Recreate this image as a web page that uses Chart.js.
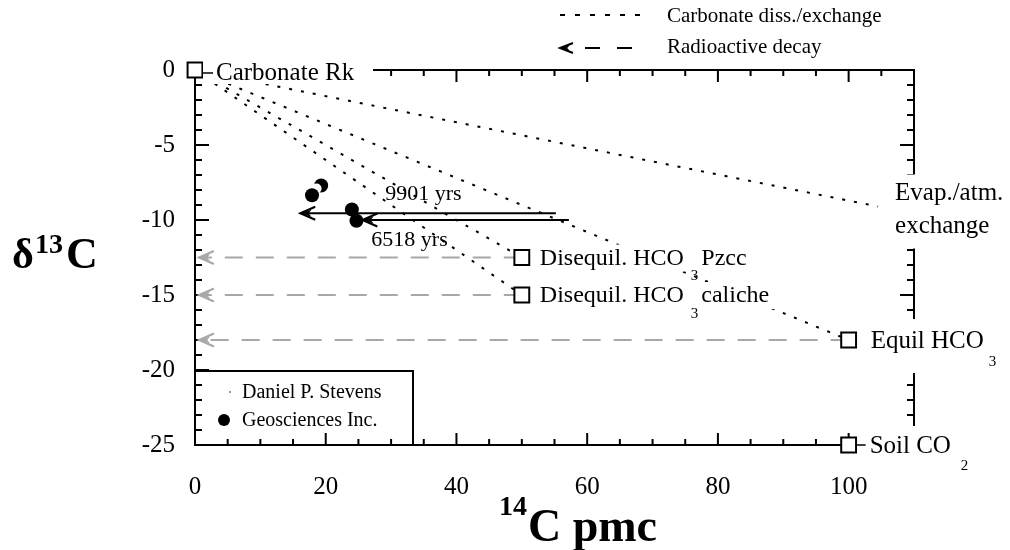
<!DOCTYPE html>
<html>
<head>
<meta charset="utf-8">
<script src="https://cdn.jsdelivr.net/npm/chart.js@4.4.1/dist/chart.umd.min.js"></script>
<style>
  body { margin: 0; background: #fff; }
  canvas { display: block; }
</style>
</head>
<body>
<canvas id="chart" width="1010" height="550"></canvas>
<script>
// end members (x = 14C pmc, y = d13C permil)
const carbonateRk = { x: 0, y: 0 };
const evapEnd = { x: 104.5, y: -9.1 };
const equilHCO3 = { x: 100, y: -18 };
const pzccHCO3 = { x: 50, y: -12.5 };
const calicheHCO3 = { x: 50, y: -15 };
const soilCO2 = { x: 100, y: -25 };

// samples
const geoX = [17.9, 24.0, 24.7];
const geoY = [-8.35, -9.3, -10.05];
const geoHiddenX = [19.3];     // partly covered by the Stevens marker
const geoHiddenY = [-7.7];
const stevensX = [18.6];
const stevensY = [-7.9];

// radioactive decay paths
const decayStartX = [55.2, 57.2];
const decayEndX = [16.1, 25.6];
const decayY = [-9.55, -10.0];
const decayText = ['9901 yrs', '6518 yrs'];

// gray decay lines back towards 0 pmc
const grayTipX = 0.6;

const xTicks = [0, 20, 40, 60, 80, 100];
const FONT = '"Liberation Serif", "Times New Roman", serif';

const pts = (xs, ys) => xs.map((x, i) => ({ x: x, y: ys[i] }));

const datasets = [];

// carbonate dissolution / exchange (dotted)
[evapEnd, equilHCO3, pzccHCO3, calicheHCO3].forEach(end => {
    datasets.push({
        data: [carbonateRk, end],
        showLine: true,
        borderColor: '#000',
        borderWidth: 2,
        borderDash: [3, 9],
        pointRadius: 0,
        order: 10
    });
});

// gray dashed decay lines
[pzccHCO3, calicheHCO3, equilHCO3].forEach(end => {
    datasets.push({
        data: [end, { x: grayTipX, y: end.y }],
        showLine: true,
        borderColor: '#a8a8a8',
        borderWidth: 2,
        borderDash: [18, 13],
        pointRadius: 0,
        arrow: '#a8a8a8',
        order: 9
    });
});

// black decay arrows
decayStartX.forEach((x0, i) => {
    datasets.push({
        data: [{ x: x0, y: decayY[i] }, { x: decayEndX[i], y: decayY[i] }],
        showLine: true,
        borderColor: '#000',
        borderWidth: 2,
        pointRadius: 0,
        arrow: '#000',
        order: 8
    });
});

// end member squares
datasets.push({
    data: [carbonateRk, pzccHCO3, calicheHCO3, equilHCO3, soilCO2],
    pointStyle: 'rect',
    pointRadius: 10.5,
    backgroundColor: '#fff',
    borderColor: '#000',
    borderWidth: 2,
    order: 7
});

datasets.push({
    data: pts(geoHiddenX, geoHiddenY),
    pointRadius: 7,
    backgroundColor: '#000',
    borderColor: '#000',
    borderWidth: 0,
    order: 6
});
datasets.push({
    data: pts(stevensX, stevensY),
    pointRadius: 5,
    backgroundColor: '#fff',
    borderColor: '#fff',
    borderWidth: 0,
    order: 5
});
datasets.push({
    data: pts(geoX, geoY),
    pointRadius: 7,
    backgroundColor: '#000',
    borderColor: '#000',
    borderWidth: 0,
    order: 4
});

datasets.forEach(d => { d.clip = false; });

function text(ctx, str, x, y, size, opts) {
    opts = opts || {};
    ctx.font = (opts.bold ? 'bold ' : '') + size + 'px ' + FONT;
    ctx.textBaseline = opts.baseline || 'middle';
    ctx.textAlign = 'left';
    ctx.fillStyle = '#000';
    ctx.fillText(str, x, y);
    return ctx.measureText(str).width;
}

function whiteBox(ctx, x0, y0, x1, y1) {
    ctx.fillStyle = '#fff';
    ctx.fillRect(x0, y0, x1 - x0, y1 - y0);
}

// barbed "<" style head, tip at (tipX, tipY)
function arrowHead(ctx, tipX, tipY, dir, color, len, half) {
    ctx.save();
    ctx.fillStyle = color;
    ctx.strokeStyle = color;
    ctx.lineWidth = 2;
    ctx.lineJoin = 'miter';
    ctx.beginPath();
    ctx.moveTo(tipX - dir * len, tipY - half);
    ctx.lineTo(tipX, tipY);
    ctx.lineTo(tipX - dir * len, tipY + half);
    ctx.stroke();
    ctx.beginPath();
    ctx.moveTo(tipX, tipY);
    ctx.lineTo(tipX - dir * len * 0.75, tipY - half * 0.55);
    ctx.lineTo(tipX - dir * len * 0.55, tipY);
    ctx.lineTo(tipX - dir * len * 0.75, tipY + half * 0.55);
    ctx.closePath();
    ctx.fill();
    ctx.restore();
}

const framePlugin = {
    id: 'frame',
    beforeDatasetsDraw(chart) {
        const ctx = chart.ctx;
        const a = chart.chartArea;
        const xs = chart.scales.x, ys = chart.scales.y;
        ctx.save();
        ctx.strokeStyle = '#000';
        ctx.lineWidth = 2;
        ctx.strokeRect(a.left, a.top, a.right - a.left, a.bottom - a.top);
        ctx.beginPath();
        for (let v = 0; v <= 110; v += 5) {
            const px = xs.getPixelForValue(v);
            const len = v % 20 === 0 ? 12 : 6;
            ctx.moveTo(px, a.bottom); ctx.lineTo(px, a.bottom - len);
            ctx.moveTo(px, a.top); ctx.lineTo(px, a.top + len);
        }
        for (let v = 0; v >= -25; v -= 1) {
            const py = ys.getPixelForValue(v);
            const len = v % 5 === 0 ? 14 : 7;
            ctx.moveTo(a.left, py); ctx.lineTo(a.left + len, py);
            ctx.moveTo(a.right, py); ctx.lineTo(a.right - len, py);
        }
        ctx.stroke();
        ctx.restore();
    },
    afterDatasetsDraw(chart) {
        const ctx = chart.ctx;
        const xs = chart.scales.x, ys = chart.scales.y;
        const a = chart.chartArea;
        const px = v => xs.getPixelForValue(v);
        const py = v => ys.getPixelForValue(v);

        ctx.save();
        // arrow heads
        chart.data.datasets.forEach((d, i) => {
            if (!d.arrow) return;
            const m = chart.getDatasetMeta(i).data;
            const p0 = m[0], p1 = m[m.length - 1];
            const dir = p1.x < p0.x ? -1 : 1;
            arrowHead(ctx, p1.x, p1.y, dir, d.arrow, 15, 6.5);
        });

        // Carbonate Rk
        let x = px(carbonateRk.x), y = py(carbonateRk.y);
        whiteBox(ctx, x + 8, y - 13, x + 178, y + 14);
        ctx.strokeStyle = '#000'; ctx.lineWidth = 1.5;
        ctx.beginPath(); ctx.moveTo(x + 8, y + 3); ctx.lineTo(x + 18, y + 3); ctx.stroke();
        text(ctx, 'Carbonate Rk', x + 21, y + 3, 25);

        // Disequilibrium HCO3 labels
        [[pzccHCO3, 'Pzcc'], [calicheHCO3, 'caliche']].forEach(([p, tail]) => {
            const lx = px(p.x) + 18, ly = py(p.y);
            ctx.font = '24px ' + FONT;
            const w1 = ctx.measureText('Disequil. HCO').width;
            ctx.font = '15px ' + FONT;
            const w2 = ctx.measureText('3').width;
            ctx.font = '24px ' + FONT;
            const w3 = ctx.measureText(tail).width;
            whiteBox(ctx, lx - 3, ly - 13, lx + w1 + w2 + w3 + 16, ly + 14);
            text(ctx, 'Disequil. HCO', lx, ly + 1, 24);
            text(ctx, '3', lx + w1 + 7, ly + 19, 15);
            text(ctx, tail, lx + w1 + w2 + 10, ly + 1, 24);
        });

        // Equil HCO3
        x = px(equilHCO3.x); y = py(equilHCO3.y);
        whiteBox(ctx, x + 9, y - 21, 1008, y + 33);
        text(ctx, 'Equil HCO', x + 22, y + 1, 25);
        text(ctx, '3', x + 140, y + 22, 15);

        // Soil CO2
        x = px(soilCO2.x); y = py(soilCO2.y);
        whiteBox(ctx, x + 9, y - 19, 1008, y + 30);
        ctx.strokeStyle = '#000'; ctx.lineWidth = 1.5;
        ctx.beginPath(); ctx.moveTo(x + 9, y); ctx.lineTo(x + 17, y); ctx.stroke();
        text(ctx, 'Soil CO', x + 21, y + 1, 25);
        text(ctx, '2', x + 112, y + 21, 15);

        // Evaporation / atmospheric exchange
        x = px(evapEnd.x); y = py(evapEnd.y);
        whiteBox(ctx, x + 12, y - 32, 1008, y + 42);
        text(ctx, 'Evap./atm.', x + 17, y - 13, 25);
        text(ctx, 'exchange', x + 17, y + 20, 25);

        // decay ages
        decayText.forEach((t, i) => {
            const lx = px(decayEndX[i]) + (i === 0 ? 85 : 9);
            const ly = py(decayY[i]) + (i === 0 ? -19 : 20);
            text(ctx, t, lx, ly, 22);
        });

        // inset legend
        const bx0 = a.left, by1 = a.bottom, bx1 = 413, by0 = py(-20) + 1;
        ctx.strokeStyle = '#000'; ctx.lineWidth = 2;
        ctx.beginPath();
        ctx.moveTo(bx0, by0); ctx.lineTo(bx1, by0); ctx.lineTo(bx1, by1);
        ctx.stroke();
        ctx.fillStyle = '#999';
        ctx.fillRect(229, 391, 2, 2);
        ctx.fillStyle = '#000';
        ctx.beginPath(); ctx.arc(224, 420, 6, 0, Math.PI * 2); ctx.fill();
        text(ctx, 'Daniel P. Stevens', 242, 393, 20);
        text(ctx, 'Geosciences Inc.', 242, 421, 20);

        // top legend
        ctx.strokeStyle = '#000'; ctx.lineWidth = 2;
        ctx.setLineDash([5, 10]);
        ctx.beginPath(); ctx.moveTo(560, 15); ctx.lineTo(645, 15); ctx.stroke();
        ctx.setLineDash([15, 17]);
        ctx.beginPath(); ctx.moveTo(585, 48); ctx.lineTo(640, 48); ctx.stroke();
        ctx.setLineDash([]);
        arrowHead(ctx, 560, 48, -1, '#000', 13, 5);
        text(ctx, 'Carbonate diss./exchange', 667, 16, 21);
        text(ctx, 'Radioactive decay', 667, 47, 21);

        // axis titles
        text(ctx, '\u03b4', 12, 268, 42, { bold: true, baseline: 'alphabetic' });
        text(ctx, '13', 35, 253, 28, { bold: true, baseline: 'alphabetic' });
        text(ctx, 'C', 66, 268, 44, { bold: true, baseline: 'alphabetic' });
        text(ctx, '14', 499, 515, 28, { bold: true, baseline: 'alphabetic' });
        text(ctx, 'C pmc', 528, 541, 46, { bold: true, baseline: 'alphabetic' });
        ctx.restore();
    }
};

new Chart(document.getElementById('chart'), {
    type: 'scatter',
    data: { datasets: datasets },
    options: {
        responsive: false,
        animation: false,
        events: [],
        layout: { padding: { top: 70, right: 96, left: 0, bottom: 0 } },
        plugins: { legend: { display: false }, tooltip: { enabled: false } },
        scales: {
            x: {
                type: 'linear',
                min: 0,
                max: 110,
                grid: { display: false },
                border: { display: false },
                ticks: {
                    stepSize: 20,
                    padding: 19,
                    color: '#000',
                    font: { family: FONT, size: 25 }
                },
                afterBuildTicks: s => { s.ticks = xTicks.map(v => ({ value: v })); },
                afterFit: s => { s.height = 105; }
            },
            y: {
                type: 'linear',
                min: -25,
                max: 0,
                grid: { display: false },
                border: { display: false },
                ticks: {
                    stepSize: 5,
                    padding: 12,
                    color: '#000',
                    font: { family: FONT, size: 25 }
                },
                afterFit: s => { s.width = 195; }
            }
        }
    },
    plugins: [framePlugin]
});
</script>
</body>
</html>
